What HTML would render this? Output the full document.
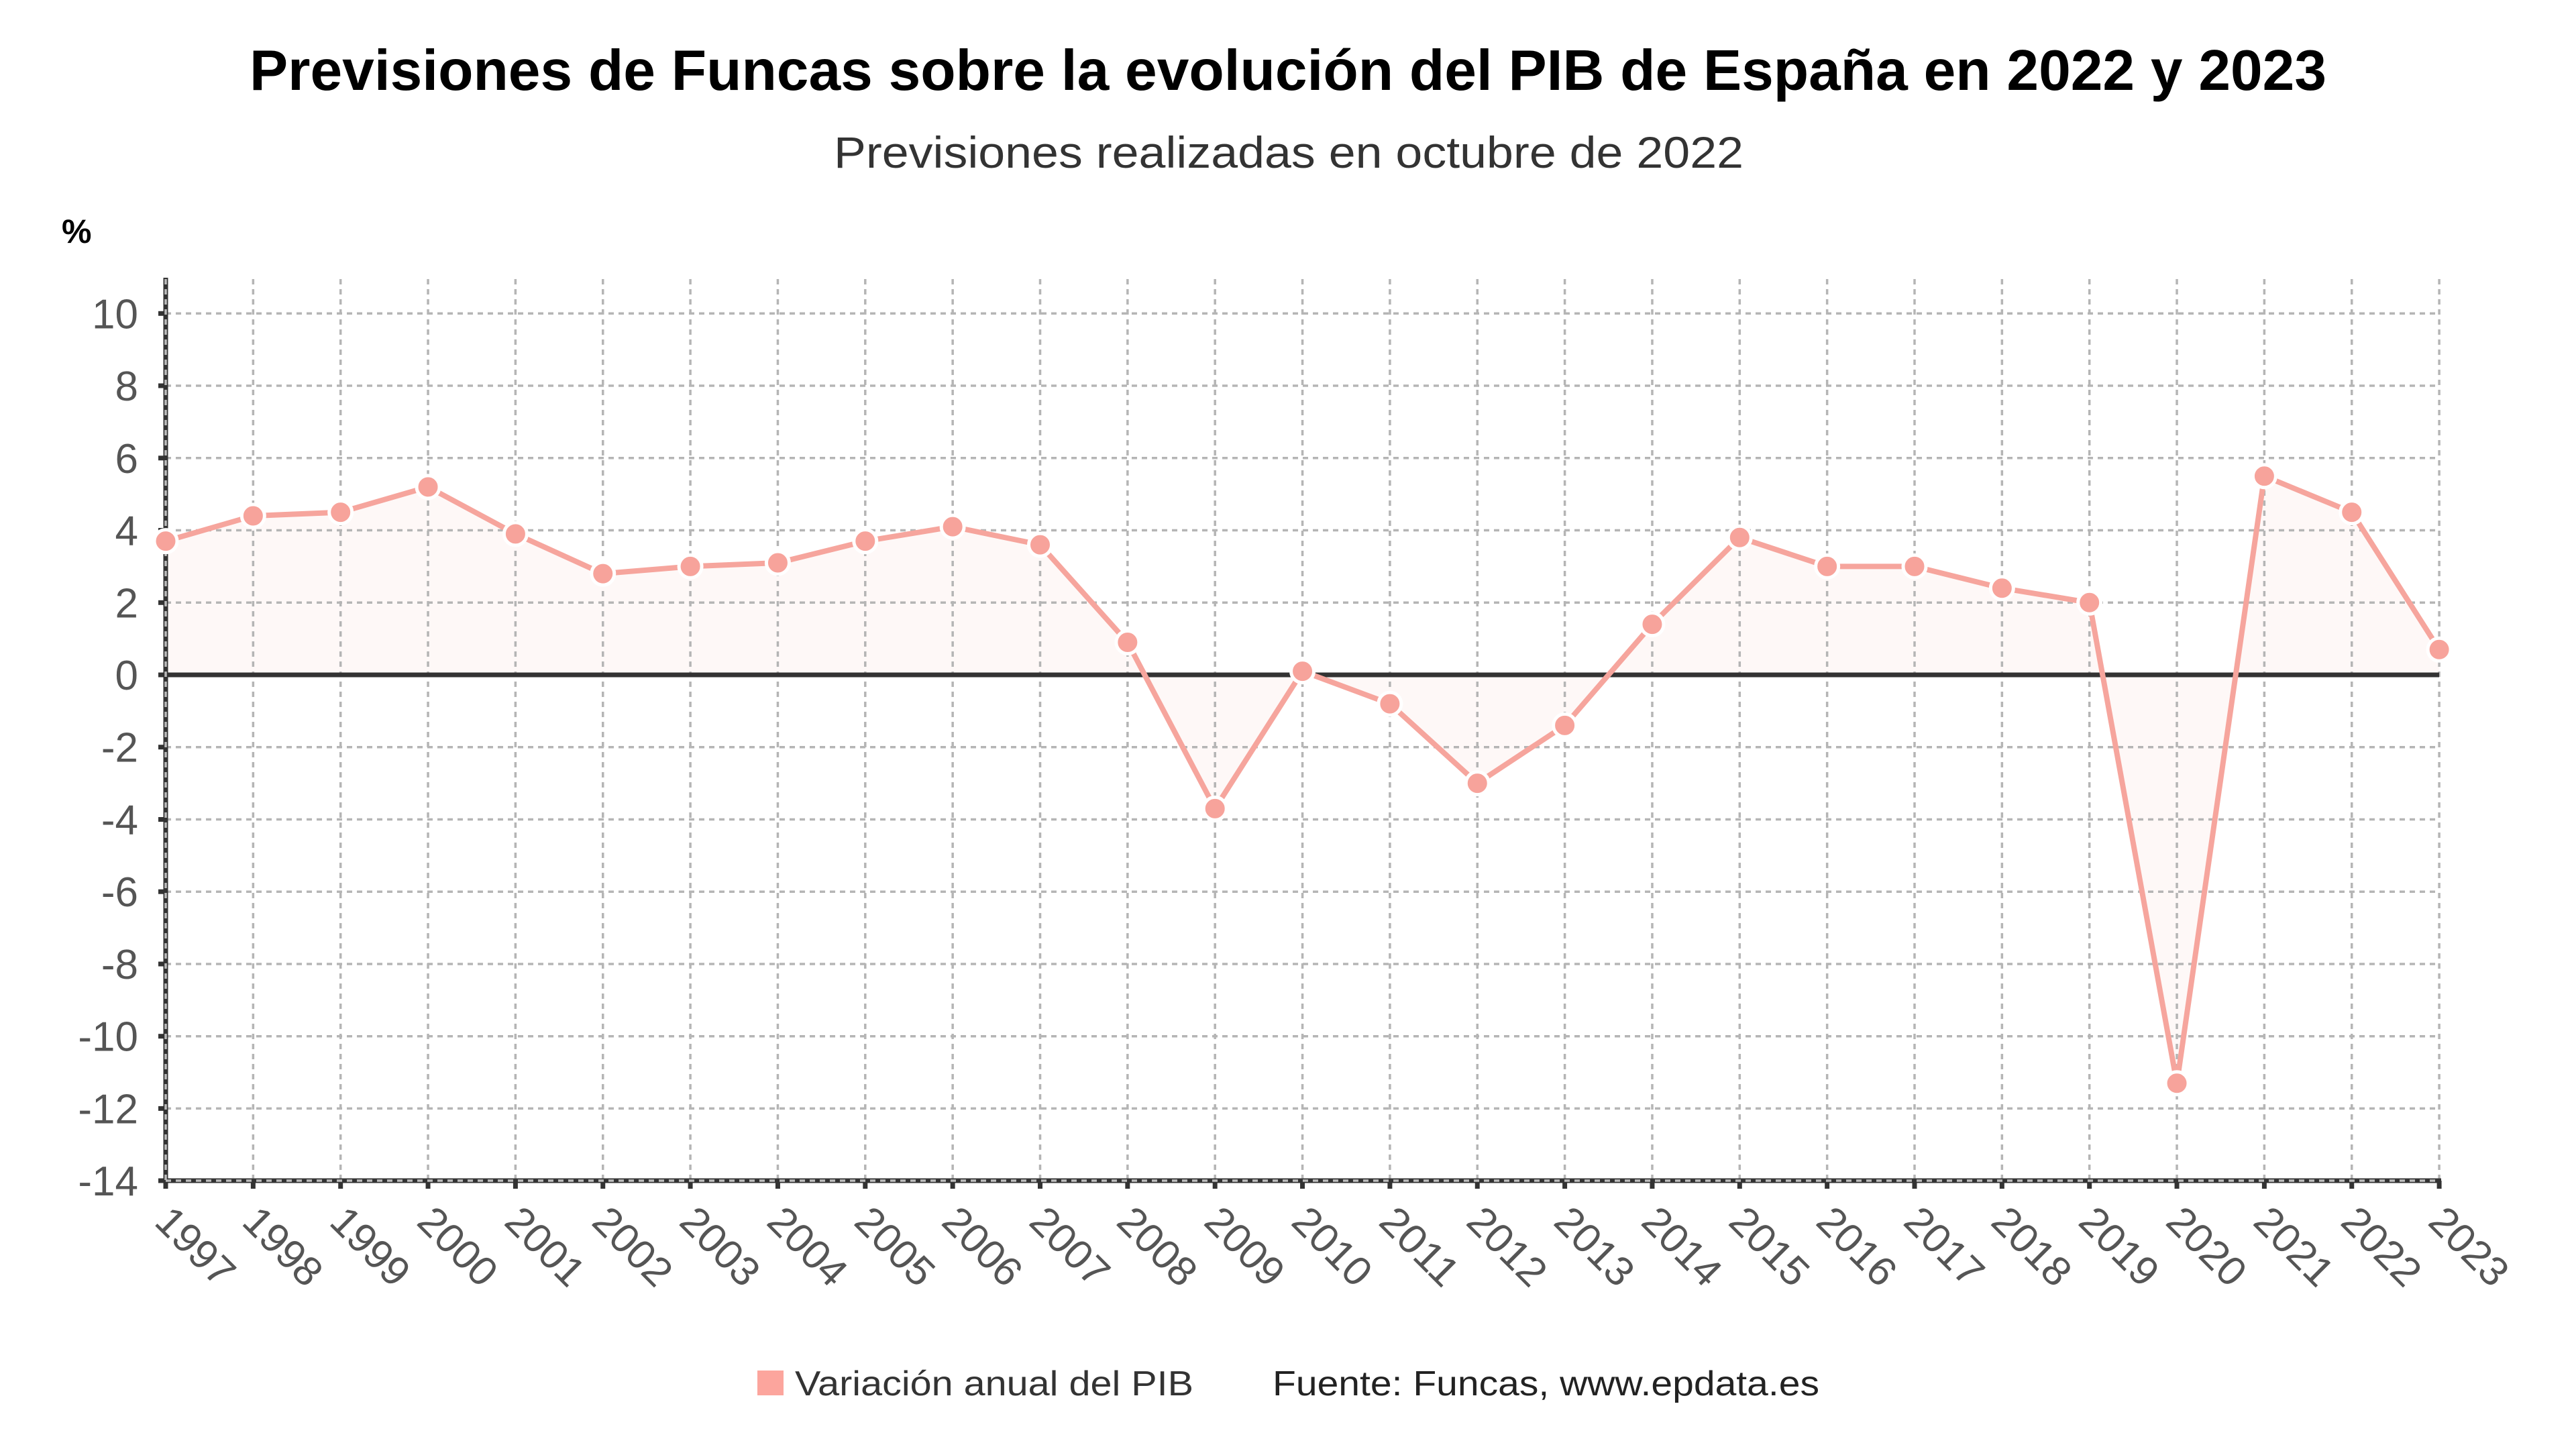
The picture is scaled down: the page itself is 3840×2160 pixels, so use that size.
<!DOCTYPE html>
<html>
<head>
<meta charset="utf-8">
<style>
html,body{margin:0;padding:0;background:#fff;}
svg{display:block;}
text{font-family:"Liberation Sans","DejaVu Sans",sans-serif;}
</style>
</head>
<body>
<svg width="3840" height="2160" viewBox="0 0 3840 2160" xmlns="http://www.w3.org/2000/svg">
<rect x="0" y="0" width="3840" height="2160" fill="#ffffff"/>

<!-- Title -->
<text x="1920" y="134" text-anchor="middle" font-size="85" font-weight="bold" fill="#000" textLength="3096" lengthAdjust="spacingAndGlyphs">Previsiones de Funcas sobre la evolución del PIB de España en 2022 y 2023</text>
<text x="1921" y="250" text-anchor="middle" font-size="66" fill="#333" textLength="1356" lengthAdjust="spacingAndGlyphs">Previsiones realizadas en octubre de 2022</text>

<!-- % label -->
<text x="92" y="362" font-size="50" font-weight="bold" fill="#000">%</text>

<!-- Area fill -->
<path d="M247,1006 L247,806.68 L377.35,768.97 L507.7,763.58 L638.05,725.88 L768.4,795.91 L898.75,855.16 L1029.1,844.39 L1159.45,839 L1289.8,806.68 L1420.15,785.13 L1550.5,812.07 L1680.85,957.52 L1811.2,1205.32 L1941.55,1000.61 L2071.9,1049.1 L2202.25,1167.61 L2332.6,1081.42 L2462.95,930.58 L2593.3,801.29 L2723.65,844.39 L2854,844.39 L2984.35,876.71 L3114.7,898.26 L3245.05,1614.73 L3375.4,709.71 L3505.75,763.58 L3636.1,968.29 L3636.1,1006 Z" fill="#fef8f7"/>

<!-- Horizontal grid -->
<g stroke="#b5b5b5" stroke-width="3.5" stroke-dasharray="8 7" fill="none">
<line x1="247" y1="467.3" x2="3636" y2="467.3"/>
<line x1="247" y1="575.0" x2="3636" y2="575.0"/>
<line x1="247" y1="682.8" x2="3636" y2="682.8"/>
<line x1="247" y1="790.5" x2="3636" y2="790.5"/>
<line x1="247" y1="898.3" x2="3636" y2="898.3"/>
<line x1="247" y1="1113.7" x2="3636" y2="1113.7"/>
<line x1="247" y1="1221.5" x2="3636" y2="1221.5"/>
<line x1="247" y1="1329.2" x2="3636" y2="1329.2"/>
<line x1="247" y1="1437.0" x2="3636" y2="1437.0"/>
<line x1="247" y1="1544.7" x2="3636" y2="1544.7"/>
<line x1="247" y1="1652.4" x2="3636" y2="1652.4"/>
</g>

<!-- Vertical grid -->
<g stroke="#b5b5b5" stroke-width="3.5" stroke-dasharray="8 7" fill="none">
<line x1="377.35" y1="416" x2="377.35" y2="1760"/>
<line x1="507.7" y1="416" x2="507.7" y2="1760"/>
<line x1="638.05" y1="416" x2="638.05" y2="1760"/>
<line x1="768.4" y1="416" x2="768.4" y2="1760"/>
<line x1="898.75" y1="416" x2="898.75" y2="1760"/>
<line x1="1029.1" y1="416" x2="1029.1" y2="1760"/>
<line x1="1159.45" y1="416" x2="1159.45" y2="1760"/>
<line x1="1289.8" y1="416" x2="1289.8" y2="1760"/>
<line x1="1420.15" y1="416" x2="1420.15" y2="1760"/>
<line x1="1550.5" y1="416" x2="1550.5" y2="1760"/>
<line x1="1680.85" y1="416" x2="1680.85" y2="1760"/>
<line x1="1811.2" y1="416" x2="1811.2" y2="1760"/>
<line x1="1941.55" y1="416" x2="1941.55" y2="1760"/>
<line x1="2071.9" y1="416" x2="2071.9" y2="1760"/>
<line x1="2202.25" y1="416" x2="2202.25" y2="1760"/>
<line x1="2332.6" y1="416" x2="2332.6" y2="1760"/>
<line x1="2462.95" y1="416" x2="2462.95" y2="1760"/>
<line x1="2593.3" y1="416" x2="2593.3" y2="1760"/>
<line x1="2723.65" y1="416" x2="2723.65" y2="1760"/>
<line x1="2854" y1="416" x2="2854" y2="1760"/>
<line x1="2984.35" y1="416" x2="2984.35" y2="1760"/>
<line x1="3114.7" y1="416" x2="3114.7" y2="1760"/>
<line x1="3245.05" y1="416" x2="3245.05" y2="1760"/>
<line x1="3375.4" y1="416" x2="3375.4" y2="1760"/>
<line x1="3505.75" y1="416" x2="3505.75" y2="1760"/>
<line x1="3636.1" y1="416" x2="3636.1" y2="1760"/>
</g>

<!-- Axes -->
<g stroke="#333" stroke-width="7" fill="none">
<line x1="247" y1="414" x2="247" y2="1763"/>
<line x1="236" y1="1760" x2="3639" y2="1760"/>
<line x1="236" y1="1006" x2="3636" y2="1006"/>
<!-- y ticks -->
<line x1="236" y1="467.3" x2="247" y2="467.3"/>
<line x1="236" y1="575.0" x2="247" y2="575.0"/>
<line x1="236" y1="682.8" x2="247" y2="682.8"/>
<line x1="236" y1="790.5" x2="247" y2="790.5"/>
<line x1="236" y1="898.3" x2="247" y2="898.3"/>
<line x1="236" y1="1113.7" x2="247" y2="1113.7"/>
<line x1="236" y1="1221.5" x2="247" y2="1221.5"/>
<line x1="236" y1="1329.2" x2="247" y2="1329.2"/>
<line x1="236" y1="1437.0" x2="247" y2="1437.0"/>
<line x1="236" y1="1544.7" x2="247" y2="1544.7"/>
<line x1="236" y1="1652.4" x2="247" y2="1652.4"/>
<!-- x ticks -->
<line x1="247" y1="1760" x2="247" y2="1772"/>
<line x1="377.35" y1="1760" x2="377.35" y2="1772"/>
<line x1="507.7" y1="1760" x2="507.7" y2="1772"/>
<line x1="638.05" y1="1760" x2="638.05" y2="1772"/>
<line x1="768.4" y1="1760" x2="768.4" y2="1772"/>
<line x1="898.75" y1="1760" x2="898.75" y2="1772"/>
<line x1="1029.1" y1="1760" x2="1029.1" y2="1772"/>
<line x1="1159.45" y1="1760" x2="1159.45" y2="1772"/>
<line x1="1289.8" y1="1760" x2="1289.8" y2="1772"/>
<line x1="1420.15" y1="1760" x2="1420.15" y2="1772"/>
<line x1="1550.5" y1="1760" x2="1550.5" y2="1772"/>
<line x1="1680.85" y1="1760" x2="1680.85" y2="1772"/>
<line x1="1811.2" y1="1760" x2="1811.2" y2="1772"/>
<line x1="1941.55" y1="1760" x2="1941.55" y2="1772"/>
<line x1="2071.9" y1="1760" x2="2071.9" y2="1772"/>
<line x1="2202.25" y1="1760" x2="2202.25" y2="1772"/>
<line x1="2332.6" y1="1760" x2="2332.6" y2="1772"/>
<line x1="2462.95" y1="1760" x2="2462.95" y2="1772"/>
<line x1="2593.3" y1="1760" x2="2593.3" y2="1772"/>
<line x1="2723.65" y1="1760" x2="2723.65" y2="1772"/>
<line x1="2854" y1="1760" x2="2854" y2="1772"/>
<line x1="2984.35" y1="1760" x2="2984.35" y2="1772"/>
<line x1="3114.7" y1="1760" x2="3114.7" y2="1772"/>
<line x1="3245.05" y1="1760" x2="3245.05" y2="1772"/>
<line x1="3375.4" y1="1760" x2="3375.4" y2="1772"/>
<line x1="3505.75" y1="1760" x2="3505.75" y2="1772"/>
<line x1="3636.1" y1="1760" x2="3636.1" y2="1772"/>
</g>
<!-- dashed overlay on axes -->
<g stroke="#bdbdbd" stroke-width="3.5" stroke-dasharray="8 7" fill="none">
<line x1="247" y1="416" x2="247" y2="1760"/>
<line x1="247" y1="1760" x2="3636" y2="1760"/>
</g>

<!-- Y labels -->
<g font-size="62" fill="#555" text-anchor="end">
<text x="206" y="489.3">10</text>
<text x="206" y="597.0">8</text>
<text x="206" y="704.8">6</text>
<text x="206" y="812.5">4</text>
<text x="206" y="920.3">2</text>
<text x="206" y="1028">0</text>
<text x="206" y="1135.7">-2</text>
<text x="206" y="1243.5">-4</text>
<text x="206" y="1351.2">-6</text>
<text x="206" y="1459.0">-8</text>
<text x="206" y="1566.7">-10</text>
<text x="206" y="1674.4">-12</text>
<text x="206" y="1782.2">-14</text>
</g>

<!-- X labels -->
<g font-size="61" fill="#555">
<text transform="translate(228,1824) rotate(45)" textLength="138" lengthAdjust="spacingAndGlyphs">1997</text>
<text transform="translate(358.35,1824) rotate(45)" textLength="138" lengthAdjust="spacingAndGlyphs">1998</text>
<text transform="translate(488.7,1824) rotate(45)" textLength="138" lengthAdjust="spacingAndGlyphs">1999</text>
<text transform="translate(619.05,1824) rotate(45)" textLength="138" lengthAdjust="spacingAndGlyphs">2000</text>
<text transform="translate(749.4,1824) rotate(45)" textLength="138" lengthAdjust="spacingAndGlyphs">2001</text>
<text transform="translate(879.75,1824) rotate(45)" textLength="138" lengthAdjust="spacingAndGlyphs">2002</text>
<text transform="translate(1010.1,1824) rotate(45)" textLength="138" lengthAdjust="spacingAndGlyphs">2003</text>
<text transform="translate(1140.45,1824) rotate(45)" textLength="138" lengthAdjust="spacingAndGlyphs">2004</text>
<text transform="translate(1270.8,1824) rotate(45)" textLength="138" lengthAdjust="spacingAndGlyphs">2005</text>
<text transform="translate(1401.15,1824) rotate(45)" textLength="138" lengthAdjust="spacingAndGlyphs">2006</text>
<text transform="translate(1531.5,1824) rotate(45)" textLength="138" lengthAdjust="spacingAndGlyphs">2007</text>
<text transform="translate(1661.85,1824) rotate(45)" textLength="138" lengthAdjust="spacingAndGlyphs">2008</text>
<text transform="translate(1792.2,1824) rotate(45)" textLength="138" lengthAdjust="spacingAndGlyphs">2009</text>
<text transform="translate(1922.55,1824) rotate(45)" textLength="138" lengthAdjust="spacingAndGlyphs">2010</text>
<text transform="translate(2052.9,1824) rotate(45)" textLength="138" lengthAdjust="spacingAndGlyphs">2011</text>
<text transform="translate(2183.25,1824) rotate(45)" textLength="138" lengthAdjust="spacingAndGlyphs">2012</text>
<text transform="translate(2313.6,1824) rotate(45)" textLength="138" lengthAdjust="spacingAndGlyphs">2013</text>
<text transform="translate(2443.95,1824) rotate(45)" textLength="138" lengthAdjust="spacingAndGlyphs">2014</text>
<text transform="translate(2574.3,1824) rotate(45)" textLength="138" lengthAdjust="spacingAndGlyphs">2015</text>
<text transform="translate(2704.65,1824) rotate(45)" textLength="138" lengthAdjust="spacingAndGlyphs">2016</text>
<text transform="translate(2835,1824) rotate(45)" textLength="138" lengthAdjust="spacingAndGlyphs">2017</text>
<text transform="translate(2965.35,1824) rotate(45)" textLength="138" lengthAdjust="spacingAndGlyphs">2018</text>
<text transform="translate(3095.7,1824) rotate(45)" textLength="138" lengthAdjust="spacingAndGlyphs">2019</text>
<text transform="translate(3226.05,1824) rotate(45)" textLength="138" lengthAdjust="spacingAndGlyphs">2020</text>
<text transform="translate(3356.4,1824) rotate(45)" textLength="138" lengthAdjust="spacingAndGlyphs">2021</text>
<text transform="translate(3486.75,1824) rotate(45)" textLength="138" lengthAdjust="spacingAndGlyphs">2022</text>
<text transform="translate(3617.1,1824) rotate(45)" textLength="138" lengthAdjust="spacingAndGlyphs">2023</text>
</g>

<!-- Series line -->
<polyline fill="none" stroke="#f6a59d" stroke-width="8" stroke-linejoin="round" points="247,806.68 377.35,768.97 507.7,763.58 638.05,725.88 768.4,795.91 898.75,855.16 1029.1,844.39 1159.45,839 1289.8,806.68 1420.15,785.13 1550.5,812.07 1680.85,957.52 1811.2,1205.32 1941.55,1000.61 2071.9,1049.1 2202.25,1167.61 2332.6,1081.42 2462.95,930.58 2593.3,801.29 2723.65,844.39 2854,844.39 2984.35,876.71 3114.7,898.26 3245.05,1614.73 3375.4,709.71 3505.75,763.58 3636.1,968.29"/>

<!-- Markers -->
<g fill="#f7a39b" stroke="#ffffff" stroke-width="5">
<circle cx="247" cy="806.68" r="17"/>
<circle cx="377.35" cy="768.97" r="17"/>
<circle cx="507.7" cy="763.58" r="17"/>
<circle cx="638.05" cy="725.88" r="17"/>
<circle cx="768.4" cy="795.91" r="17"/>
<circle cx="898.75" cy="855.16" r="17"/>
<circle cx="1029.1" cy="844.39" r="17"/>
<circle cx="1159.45" cy="839" r="17"/>
<circle cx="1289.8" cy="806.68" r="17"/>
<circle cx="1420.15" cy="785.13" r="17"/>
<circle cx="1550.5" cy="812.07" r="17"/>
<circle cx="1680.85" cy="957.52" r="17"/>
<circle cx="1811.2" cy="1205.32" r="17"/>
<circle cx="1941.55" cy="1000.61" r="17"/>
<circle cx="2071.9" cy="1049.1" r="17"/>
<circle cx="2202.25" cy="1167.61" r="17"/>
<circle cx="2332.6" cy="1081.42" r="17"/>
<circle cx="2462.95" cy="930.58" r="17"/>
<circle cx="2593.3" cy="801.29" r="17"/>
<circle cx="2723.65" cy="844.39" r="17"/>
<circle cx="2854" cy="844.39" r="17"/>
<circle cx="2984.35" cy="876.71" r="17"/>
<circle cx="3114.7" cy="898.26" r="17"/>
<circle cx="3245.05" cy="1614.73" r="17"/>
<circle cx="3375.4" cy="709.71" r="17"/>
<circle cx="3505.75" cy="763.58" r="17"/>
<circle cx="3636.1" cy="968.29" r="17"/>
</g>

<!-- Legend -->
<rect x="1129" y="2043" width="39" height="37" fill="#fca59d"/>
<text x="1185" y="2080" font-size="52" fill="#333" textLength="594" lengthAdjust="spacingAndGlyphs">Variación anual del PIB</text>
<text x="1897" y="2080" font-size="52" fill="#222" textLength="815" lengthAdjust="spacingAndGlyphs">Fuente: Funcas, www.epdata.es</text>
</svg>
</body>
</html>
